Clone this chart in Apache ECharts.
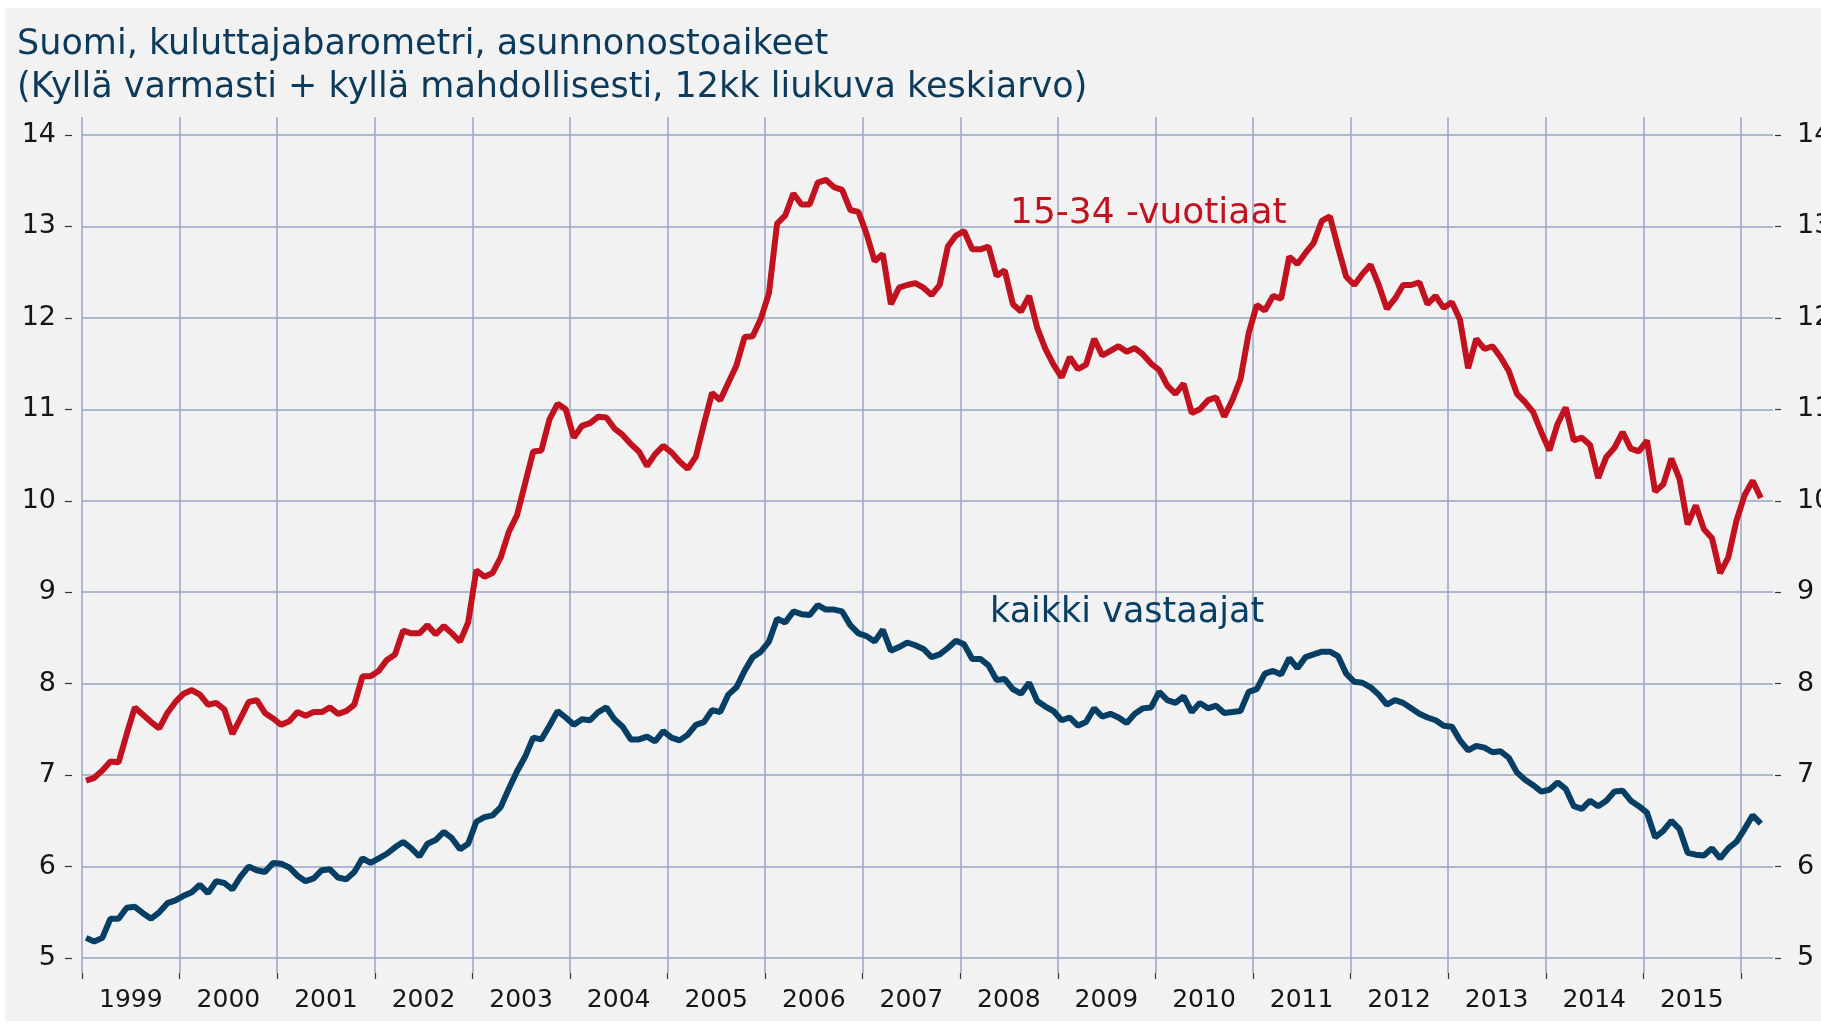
<!DOCTYPE html>
<html>
<head>
<meta charset="utf-8">
<script src="https://cdn.jsdelivr.net/npm/echarts@6/dist/echarts.min.js"></script>
<style>
  html, body { margin: 0; padding: 0; background: #fff; }
  #bg { position: absolute; left: 5px; top: 8px; width: 1816px; height: 1013px; background: #f2f2f2; }
  #chart { position: absolute; left: 0; top: 0; width: 1821px; height: 1025px; }
</style>
</head>
<body>
<div id="bg"></div>
<div id="chart"></div>
<script>
const titleLines = [
  'Suomi, kuluttajabarometri, asunnonostoaikeet',
  '(Kyllä varmasti + kyllä mahdollisesti, 12kk liukuva keskiarvo)'
]
const seriesNames = ['15-34 -vuotiaat', 'kaikki vastaajat']

// axis runs Jan 1999 .. Apr 2016, one category per month
const years = ['1999', '2000', '2001', '2002', '2003', '2004', '2005', '2006', '2007',
  '2008', '2009', '2010', '2011', '2012', '2013', '2014', '2015']
const extraMonths = ['2016-01', '2016-02', '2016-03', '2016-04']
const yTicks = { min: 5, max: 14, step: 1 }

// 15-34 -vuotiaat, monthly, Jan 1999 - Mar 2016
const young = [
  6.94, 6.97, 7.05, 7.15, 7.14, 7.45, 7.74, 7.66, 7.58, 7.51, 7.68, 7.80,        // 1999
  7.89, 7.93, 7.88, 7.77, 7.79, 7.72, 7.45, 7.62, 7.80, 7.82, 7.68, 7.62,        // 2000
  7.55, 7.59, 7.69, 7.65, 7.69, 7.69, 7.74, 7.67, 7.70, 7.77, 8.08, 8.08,        // 2001
  8.14, 8.26, 8.32, 8.58, 8.55, 8.55, 8.64, 8.54, 8.63, 8.55, 8.46, 8.67,        // 2002
  9.24, 9.17, 9.21, 9.38, 9.66, 9.84, 10.19, 10.54, 10.55, 10.89, 11.06, 11.00,  // 2003
  10.69, 10.82, 10.85, 10.92, 10.91, 10.79, 10.72, 10.62, 10.54, 10.38, 10.51, 10.60, // 2004
  10.53, 10.43, 10.35, 10.48, 10.84, 11.18, 11.10, 11.29, 11.48, 11.79, 11.80, 11.99, // 2005
  12.27, 13.03, 13.12, 13.36, 13.24, 13.24, 13.48, 13.51, 13.43, 13.40, 13.18, 13.16, // 2006
  12.92, 12.62, 12.70, 12.15, 12.33, 12.36, 12.38, 12.33, 12.25, 12.36, 12.78, 12.90, // 2007
  12.95, 12.75, 12.75, 12.78, 12.46, 12.52, 12.15, 12.07, 12.24, 11.89, 11.66, 11.49, // 2008
  11.35, 11.57, 11.44, 11.49, 11.77, 11.59, 11.64, 11.69, 11.63, 11.67, 11.60, 11.50, // 2009
  11.43, 11.26, 11.17, 11.28, 10.96, 11.00, 11.10, 11.13, 10.92, 11.10, 11.33, 11.83, // 2010
  12.14, 12.08, 12.24, 12.21, 12.67, 12.59, 12.71, 12.82, 13.06, 13.11, 12.77, 12.45, // 2011
  12.36, 12.48, 12.58, 12.36, 12.10, 12.21, 12.36, 12.36, 12.39, 12.15, 12.24, 12.11, // 2012
  12.17, 11.98, 11.45, 11.77, 11.66, 11.69, 11.57, 11.42, 11.17, 11.08, 10.97, 10.75, // 2013
  10.55, 10.84, 11.02, 10.66, 10.69, 10.61, 10.25, 10.48, 10.58, 10.75, 10.57, 10.54, // 2014
  10.66, 10.10, 10.18, 10.46, 10.24, 9.74, 9.95, 9.69, 9.59, 9.21, 9.38, 9.78,        // 2015
  10.06, 10.22, 10.03                                                                 // 2016
]

// kaikki vastaajat, monthly, Jan 1999 - Mar 2016
const all = [
  5.22, 5.18, 5.22, 5.43, 5.43, 5.55, 5.56, 5.49, 5.43, 5.50, 5.60, 5.63,  // 1999
  5.68, 5.72, 5.80, 5.71, 5.84, 5.82, 5.75, 5.89, 6.00, 5.96, 5.94, 6.04,  // 2000
  6.03, 5.99, 5.90, 5.84, 5.87, 5.96, 5.97, 5.88, 5.86, 5.94, 6.09, 6.04,  // 2001
  6.09, 6.14, 6.21, 6.27, 6.20, 6.11, 6.25, 6.29, 6.38, 6.31, 6.19, 6.25,  // 2002
  6.49, 6.54, 6.56, 6.65, 6.85, 7.04, 7.20, 7.41, 7.39, 7.54, 7.70, 7.63,  // 2003
  7.55, 7.61, 7.60, 7.69, 7.74, 7.61, 7.53, 7.39, 7.39, 7.42, 7.37, 7.48,  // 2004
  7.41, 7.38, 7.44, 7.55, 7.58, 7.71, 7.69, 7.88, 7.96, 8.14, 8.29, 8.35,  // 2005
  8.46, 8.71, 8.67, 8.79, 8.76, 8.75, 8.86, 8.81, 8.81, 8.79, 8.64, 8.55,  // 2006
  8.52, 8.46, 8.59, 8.36, 8.40, 8.45, 8.42, 8.38, 8.29, 8.32, 8.39, 8.47,  // 2007
  8.43, 8.27, 8.27, 8.20, 8.04, 8.05, 7.94, 7.89, 8.01, 7.81, 7.75, 7.70,  // 2008
  7.60, 7.63, 7.54, 7.58, 7.73, 7.64, 7.67, 7.63, 7.57, 7.67, 7.73, 7.74,  // 2009
  7.91, 7.82, 7.79, 7.86, 7.69, 7.79, 7.73, 7.76, 7.68, 7.69, 7.70, 7.91,  // 2010
  7.94, 8.11, 8.14, 8.10, 8.28, 8.17, 8.29, 8.32, 8.35, 8.35, 8.30, 8.11,  // 2011
  8.02, 8.01, 7.96, 7.88, 7.77, 7.82, 7.79, 7.73, 7.67, 7.63, 7.60, 7.54,  // 2012
  7.53, 7.38, 7.27, 7.32, 7.30, 7.25, 7.26, 7.19, 7.03, 6.95, 6.89, 6.82,  // 2013
  6.84, 6.92, 6.85, 6.66, 6.63, 6.72, 6.66, 6.72, 6.82, 6.83, 6.72, 6.66,  // 2014
  6.59, 6.32, 6.39, 6.50, 6.41, 6.15, 6.13, 6.12, 6.20, 6.09, 6.20, 6.27,  // 2015
  6.41, 6.56, 6.47                                                         // 2016
]

const months = []
years.forEach((y) => {
  for (let m = 1; m <= 12; m++) months.push(y + '-' + String(m).padStart(2, '0'))
})
months.push(...extraMonths)

const RED = '#c2121f'
const BLUE = '#063f63'
const GRID = '#97a4c6'
const TEXT = '#161616'

const chart = echarts.init(document.getElementById('chart'))

const yAxisBase = {
  type: 'value',
  gridIndex: 0,
  min: yTicks.min,
  max: yTicks.max,
  interval: yTicks.step,
  axisLine: { show: false },
  axisLabel: { color: TEXT, fontFamily: 'DejaVu Sans', fontSize: 27 },
}

chart.setOption({
  animation: false,
  backgroundColor: 'transparent',
  title: {
    text: titleLines.join('\n'),
    left: 12,
    top: 18,
    textStyle: {
      color: '#0b3a5b',
      fontFamily: 'DejaVu Sans',
      fontWeight: 'normal',
      fontSize: 35,
      lineHeight: 43,
    },
  },
  grid: [
    // right labels run off the canvas edge in the original, so no auto fitting
    { left: 82, right: 48, top: 135, bottom: 67, containLabel: false, outerBoundsMode: 'none' },
    { left: 82, right: 80, top: 117, bottom: 52, containLabel: false, outerBoundsMode: 'none' },
  ],
  xAxis: [
    {
      type: 'category',
      gridIndex: 0,
      data: months,
      boundaryGap: true,
      axisLine: { show: false },
      axisTick: { show: false },
      splitLine: { show: false },
      axisLabel: {
        interval: (i) => i % 12 === 6,
        formatter: (v) => v.slice(0, 4),
        margin: 30,
        padding: [0, 8, 0, 0],
        color: TEXT,
        fontFamily: 'DejaVu Sans',
        fontSize: 25,
      },
    },
    {
      // year grid lines and ticks
      type: 'value',
      gridIndex: 1,
      min: 0,
      max: 204,
      interval: 12,
      offset: 4,
      axisLine: { show: false },
      axisTick: { show: true, length: 6, lineStyle: { color: '#333', width: 1.2 } },
      axisLabel: { show: false },
      splitLine: { show: true, lineStyle: { color: GRID, width: 1.5 } },
    },
  ],
  yAxis: [
    {
      ...yAxisBase,
      position: 'left',
      offset: 10,
      axisTick: { show: true, length: 7, lineStyle: { color: '#333', width: 1.2 } },
      axisLabel: { ...yAxisBase.axisLabel, margin: 16 },
      splitLine: { show: true, lineStyle: { color: GRID, width: 1.5 } },
    },
    {
      ...yAxisBase,
      position: 'right',
      offset: 2,
      axisTick: { show: true, length: 6, lineStyle: { color: '#333', width: 1.2 } },
      axisLabel: { ...yAxisBase.axisLabel, margin: 22 },
      splitLine: { show: false },
    },
    { type: 'value', gridIndex: 1, show: false, min: 0, max: 1 },
  ],
  graphic: [
    {
      type: 'text', left: 1010, top: 196, z: 10,
      style: { text: seriesNames[0], fill: RED, font: '36px "DejaVu Sans"' },
    },
    {
      type: 'text', left: 990, top: 595, z: 10,
      style: { text: seriesNames[1], fill: BLUE, font: '35px "DejaVu Sans"' },
    },
  ],
  series: [
    {
      name: seriesNames[0],
      type: 'line',
      xAxisIndex: 0,
      yAxisIndex: 0,
      data: young,
      symbol: 'none',
      lineStyle: { color: RED, width: 6 },
      z: 3,
    },
    {
      name: seriesNames[1],
      type: 'line',
      xAxisIndex: 0,
      yAxisIndex: 0,
      data: all,
      symbol: 'none',
      lineStyle: { color: BLUE, width: 6 },
      z: 3,
    },
  ],
})
</script>
</body>
</html>
